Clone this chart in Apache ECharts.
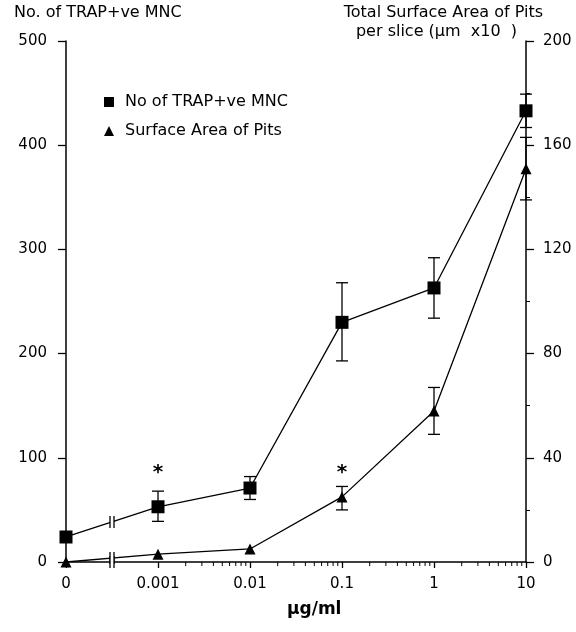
<!DOCTYPE html>
<html>
<head>
<meta charset="utf-8">
<script src="https://cdn.jsdelivr.net/npm/echarts@6/dist/echarts.min.js"></script>
<style>
  html, body { margin: 0; padding: 0; background: #fff; }
  #chart { width: 576px; height: 632px; }
</style>
</head>
<body>
<div id="chart"></div>
<script>
// concentrations (ug/ml); 0 is drawn one decade left of 0.001, after an axis break
var concentrations = [0, 0.001, 0.01, 0.1, 1, 10];
var xTickLabels = ['0', '0.001', '0.01', '0.1', '1', '10'];

// No of TRAP+ve MNC (left axis)
var trapMean = [24, 53, 71, 230, 263, 433];
var trapLow  = [24, 39, 60, 193, 234, 417];
var trapHigh = [24, 68, 82, 268, 292, 449];

// Surface area of pits (right axis)
var pitsMean = [0, 3, 5, 25, 58, 151];
var pitsLow  = [0, 3, 5, 20, 49, 139];
var pitsHigh = [0, 3, 5, 29, 67, 163];

// significance stars: [concentration, left-axis height]
var stars = [[0.001, 86], [0.1, 86]];

var FONT = 'DejaVu Sans';
var ZERO_POS = -4;
var BREAK_POS = -3.5;

function xpos(c) { return c === 0 ? ZERO_POS : Math.log10(c); }

function pairs(vals) {
  return vals.map(function (v, i) { return [xpos(concentrations[i]), v]; });
}
function errData(lo, hi) {
  return lo.map(function (v, i) { return [xpos(concentrations[i]), v, hi[i]]; })
    .filter(function (d) { return d[2] > d[1]; });
}

// minor log ticks for 0.001 .. 10
var minorTicks = [];
for (var d = -3; d < 1; d++) {
  for (var k = 2; k <= 9; k++) minorTicks.push([Math.log10(k * Math.pow(10, d)), 0]);
}

function renderErr(params, api) {
  var x = api.value(0);
  var p1 = api.coord([x, api.value(1)]);
  var p2 = api.coord([x, api.value(2)]);
  var w = 6;
  var st = { stroke: '#000', lineWidth: 1.3 };
  return {
    type: 'group',
    children: [
      { type: 'line', shape: { x1: p1[0], y1: p1[1], x2: p2[0], y2: p2[1] }, style: st },
      { type: 'line', shape: { x1: p1[0] - w, y1: p1[1], x2: p1[0] + w, y2: p1[1] }, style: st },
      { type: 'line', shape: { x1: p2[0] - w, y1: p2[1], x2: p2[0] + w, y2: p2[1] }, style: st }
    ]
  };
}

function renderBreak(params, api) {
  var p = api.coord([api.value(0), api.value(1)]);
  var h = 6, g = 2;
  var st = { stroke: '#000', lineWidth: 1.3 };
  return {
    type: 'group',
    children: [
      { type: 'rect', shape: { x: p[0] - g, y: p[1] - h, width: 2 * g, height: 2 * h }, style: { fill: '#fff' } },
      { type: 'line', shape: { x1: p[0] - g, y1: p[1] - h, x2: p[0] - g, y2: p[1] + h }, style: st },
      { type: 'line', shape: { x1: p[0] + g, y1: p[1] - h, x2: p[0] + g, y2: p[1] + h }, style: st }
    ]
  };
}

function renderMinor(params, api) {
  var p = api.coord([api.value(0), 0]);
  return {
    type: 'line',
    shape: { x1: p[0], y1: p[1], x2: p[0], y2: p[1] + 4 },
    style: { stroke: '#000', lineWidth: 1 }
  };
}

function renderStar(params, api) {
  var p = api.coord([api.value(0), api.value(1)]);
  return {
    type: 'text',
    style: { text: '*', x: p[0], y: p[1], align: 'center', verticalAlign: 'middle',
      font: 'bold 20px ' + FONT, fill: '#000' }
  };
}

var chart = echarts.init(document.getElementById('chart'));

chart.setOption({
  backgroundColor: '#fff',
  animation: false,
  textStyle: { fontFamily: FONT, color: '#000' },
  grid: { left: 66, right: 50, top: 41, bottom: 70 },
  legend: {
    orient: 'vertical',
    left: 99,
    top: 89,
    itemGap: 13,
    itemWidth: 10,
    itemHeight: 10,
    textStyle: { fontFamily: FONT, fontSize: 16, color: '#000', padding: [0, 0, 0, 6] },
    data: [
      { name: 'No of TRAP+ve MNC', icon: 'rect' },
      { name: 'Surface Area of Pits', icon: 'triangle' }
    ]
  },
  xAxis: {
    type: 'value',
    min: ZERO_POS,
    max: 1,
    interval: 1,
    splitLine: { show: false },
    axisLine: { onZero: false, lineStyle: { color: '#000', width: 1.5 } },
    axisTick: { length: 6, lineStyle: { color: '#000', width: 1.3 } },
    axisLabel: {
      color: '#000', fontSize: 15, margin: 15, fontFamily: FONT,
      formatter: function (v) { return xTickLabels[Math.round(v - ZERO_POS)]; }
    }
  },
  yAxis: [
    {
      type: 'value', min: 0, max: 500, interval: 100, position: 'left',
      splitLine: { show: false },
      axisLine: { show: true, onZero: false, lineStyle: { color: '#000', width: 1.5 } },
      axisTick: { show: true, length: 8, lineStyle: { color: '#000', width: 1.3 } },
      axisLabel: { color: '#000', fontSize: 15, margin: 19, fontFamily: FONT }
    },
    {
      type: 'value', min: 0, max: 200, interval: 40, position: 'right',
      splitLine: { show: false },
      axisLine: { show: true, onZero: false, lineStyle: { color: '#000', width: 1.5 } },
      axisTick: { show: true, length: 8, lineStyle: { color: '#000', width: 1.3 } },
      minorTick: { show: true, splitNumber: 2, length: 4, lineStyle: { color: '#000', width: 1 } },
      axisLabel: { color: '#000', fontSize: 15, margin: 17, fontFamily: FONT }
    }
  ],
  graphic: [
    { type: 'text', left: 14, top: 5, style: { text: 'No. of TRAP+ve MNC', font: '16px ' + FONT, fill: '#000' } },
    { type: 'text', right: 33, top: 5, style: { text: 'Total Surface Area of Pits', font: '16px ' + FONT, fill: '#000' } },
    { type: 'text', right: 59, top: 24, style: { text: 'per slice (\u00b5m  x10  )', font: '16px ' + FONT, fill: '#000' } },
    { type: 'text', left: 287, top: 601, style: { text: '\u00b5g/ml', font: 'bold 17px ' + FONT, fill: '#000' } }
  ],
  series: [
    {
      name: 'No of TRAP+ve MNC', type: 'line', yAxisIndex: 0,
      data: pairs(trapMean),
      symbol: 'rect', symbolSize: 13,
      itemStyle: { color: '#000' },
      lineStyle: { color: '#000', width: 1.3 },
      z: 3
    },
    {
      name: 'Surface Area of Pits', type: 'line', yAxisIndex: 1,
      data: pairs(pitsMean),
      symbol: 'triangle', symbolSize: 11,
      itemStyle: { color: '#000' },
      lineStyle: { color: '#000', width: 1.3 },
      z: 3
    },
    { type: 'custom', yAxisIndex: 0, renderItem: renderErr, data: errData(trapLow, trapHigh), z: 2, silent: true },
    { type: 'custom', yAxisIndex: 1, renderItem: renderErr, data: errData(pitsLow, pitsHigh), z: 2, silent: true },
    {
      type: 'custom', yAxisIndex: 0, renderItem: renderBreak, clip: false, silent: true, z: 4,
      data: [[BREAK_POS, (trapMean[0] + trapMean[1]) / 2], [BREAK_POS, 0]]
    },
    {
      type: 'custom', yAxisIndex: 1, renderItem: renderBreak, clip: false, silent: true, z: 4,
      data: [[BREAK_POS, (pitsMean[0] + pitsMean[1]) / 2]]
    },
    { type: 'custom', yAxisIndex: 0, renderItem: renderMinor, clip: false, silent: true, data: minorTicks },
    {
      type: 'custom', yAxisIndex: 0, renderItem: renderStar, clip: false, silent: true,
      data: stars.map(function (s) { return [xpos(s[0]), s[1]]; })
    }
  ]
});
</script>
</body>
</html>
